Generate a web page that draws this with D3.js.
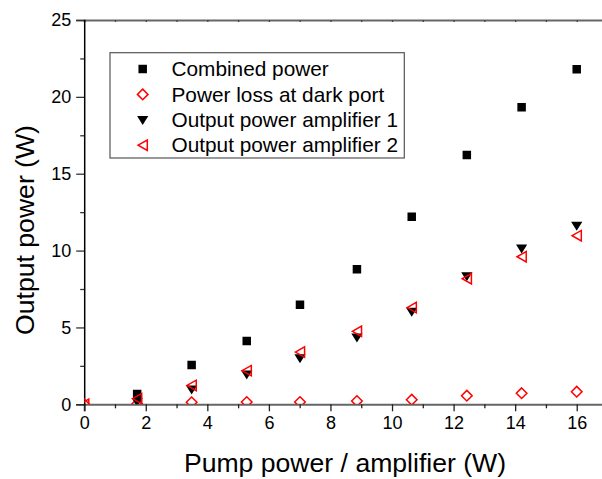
<!DOCTYPE html>
<html><head><meta charset="utf-8">
<script src="https://cdn.jsdelivr.net/npm/d3@7"></script>
<style>body{margin:0;background:#fff}svg{display:block}</style>
</head><body>
<script>
const pump = [1.72, 3.49, 5.28, 7.01, 8.86, 10.64, 12.43, 14.21, 16.0];
const pumpWithZero = [0, 1.72, 3.49, 5.28, 7.01, 8.86, 10.64, 12.43, 14.21, 16.0];
const combined = [0.67, 2.56, 4.12, 6.48, 8.78, 12.2, 16.22, 19.32, 21.8];
const darkPort = [0, 0.02, 0.13, 0.15, 0.15, 0.21, 0.3, 0.56, 0.72, 0.82];
const amp1 = [0.17, 0.97, 1.95, 3.01, 4.36, 6.03, 8.35, 10.15, 11.63];
const amp2 = [0, 0.37, 1.23, 2.19, 3.4, 4.75, 6.29, 8.17, 9.6, 10.97];
const xTicks = [0, 2, 4, 6, 8, 10, 12, 14, 16];
const yTicks = [0, 5, 10, 15, 20, 25];
const legendLabels = ["Combined power", "Power loss at dark port", "Output power amplifier 1", "Output power amplifier 2"];

const W = 602, H = 479;
const svg = d3.select("body").append("svg").attr("width", W).attr("height", H);
const font = "Liberation Sans, Arial, sans-serif";

const x = d3.scaleLinear().domain([0, 17]).range([84.2, 607.5]);
const y = d3.scaleLinear().domain([0, 25]).range([404.3, 20]);

svg.append("defs").append("clipPath").attr("id", "clip")
  .append("rect").attr("x", x(0)).attr("y", y(25)).attr("width", x(17) - x(0)).attr("height", y(0) - y(25));

const xMinor = d3.range(1, 17, 2);
const yMinor = d3.range(2.5, 25, 5);

const gx = svg.append("g").attr("transform", `translate(0,${y(0)})`)
  .call(d3.axisBottom(x).tickValues(xTicks).tickSize(7).tickPadding(5).tickFormat(d3.format("d")));
gx.select(".domain").attr("stroke", "#666").attr("stroke-width", 2);
gx.selectAll(".tick line").attr("stroke", "#222").attr("stroke-width", 1.3);
gx.selectAll("text").attr("font-family", font).attr("font-size", 18).attr("fill", "#000");
svg.append("g").attr("transform", `translate(0,${y(0)})`)
  .call(d3.axisBottom(x).tickValues(xMinor).tickSize(4).tickFormat(""))
  .call(g => { g.select(".domain").remove(); g.selectAll("line").attr("stroke", "#222").attr("stroke-width", 1.3); });

const gt = svg.append("g").attr("transform", `translate(0,${y(25)})`)
  .call(d3.axisBottom(x).tickValues(d3.range(0, 18, 1)).tickSize(2).tickFormat(""));
gt.select(".domain").attr("stroke", "#666").attr("stroke-width", 2);
gt.selectAll("line").attr("stroke", "#444").attr("stroke-width", 1.3);

const gy = svg.append("g").attr("transform", `translate(${x(0)},0)`)
  .call(d3.axisLeft(y).tickValues(yTicks).tickSize(8).tickPadding(5).tickFormat(d3.format("d")));
gy.select(".domain").attr("stroke", "#000").attr("stroke-width", 1.5);
gy.selectAll(".tick line").attr("stroke", "#333").attr("stroke-width", 1.3);
gy.selectAll("text").attr("font-family", font).attr("font-size", 18).attr("fill", "#000");
svg.append("g").attr("transform", `translate(${x(0)},0)`)
  .call(d3.axisLeft(y).tickValues(yMinor).tickSize(4).tickFormat(""))
  .call(g => { g.select(".domain").remove(); g.selectAll("line").attr("stroke", "#333").attr("stroke-width", 1.3); });

svg.append("text").attr("x", (185 + 505) / 2).attr("y", 471.5).attr("text-anchor", "middle")
  .attr("font-family", font).attr("font-size", 26.6).text("Pump power / amplifier (W)");
svg.append("text").attr("transform", `translate(34,230) rotate(-90)`).attr("text-anchor", "middle")
  .attr("font-family", font).attr("font-size", 26.6).text("Output power (W)");

const square = d3.symbol().type(d3.symbolSquare).size(72)();
const diamondPath = "M0,-5.3L5.3,0L0,5.3L-5.3,0Z";
const downTri = "M-5.6,-3.8L5.6,-3.8L0,5.2Z";
const leftTri = "M-4.6,0L4.6,-5.2L4.6,5.2Z";

const plot = svg.append("g").attr("clip-path", "url(#clip)");

function drawSeries(xs, ys, path, fill, stroke) {
  plot.append("g").selectAll("path").data(ys).join("path")
    .attr("transform", (d, i) => `translate(${x(xs[i])},${y(d)})`)
    .attr("d", path).attr("fill", fill).attr("stroke", stroke).attr("stroke-width", stroke === "none" ? 0 : 1.5);
}
drawSeries(pump, combined, square, "#000", "none");
drawSeries(pumpWithZero, darkPort, diamondPath, "none", "#ff0000");
drawSeries(pump, amp1, downTri, "#000", "none");
drawSeries(pumpWithZero, amp2, leftTri, "none", "#ff0000");

const lg = svg.append("g");
lg.append("rect").attr("x", 110).attr("y", 52.7).attr("width", 294.3).attr("height", 105.3)
  .attr("fill", "#fff").attr("stroke", "#555").attr("stroke-width", 1.2);
const legendSyms = [
  { d: square, fill: "#000", stroke: "none" },
  { d: diamondPath, fill: "none", stroke: "#ff0000" },
  { d: downTri, fill: "#000", stroke: "none" },
  { d: leftTri, fill: "none", stroke: "#ff0000" }
];
legendLabels.forEach((lab, i) => {
  const cy = 69 + i * 25.4;
  const s = legendSyms[i];
  lg.append("path").attr("transform", `translate(142.7,${cy})`).attr("d", s.d)
    .attr("fill", s.fill).attr("stroke", s.stroke).attr("stroke-width", s.stroke === "none" ? 0 : 1.5);
  lg.append("text").attr("x", 171.5).attr("y", cy + 7.2).attr("font-family", font).attr("font-size", 20.8)
    .text(lab);
});
</script>
</body></html>
